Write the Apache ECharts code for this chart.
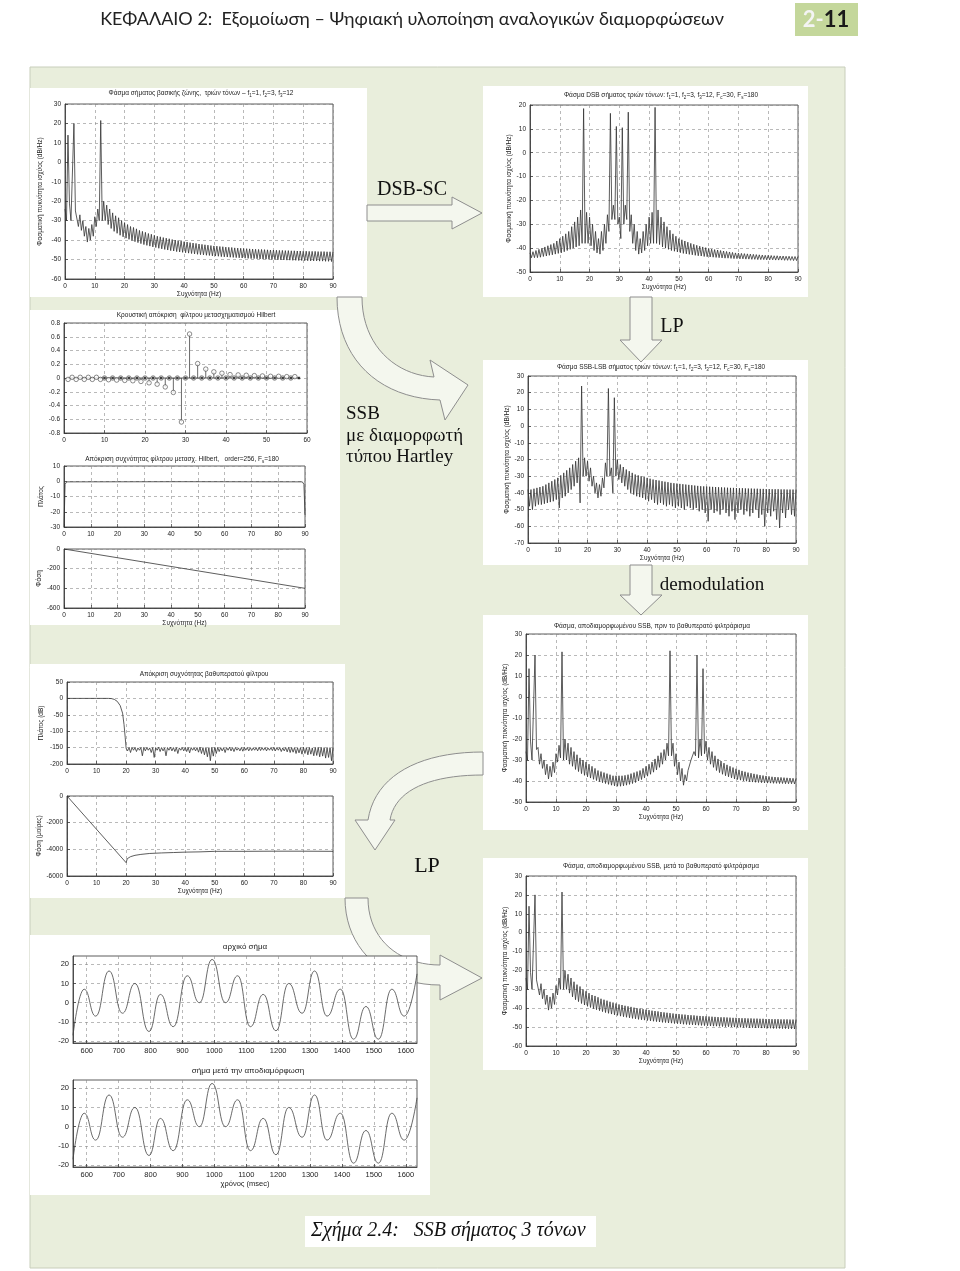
<!DOCTYPE html>
<html><head><meta charset="utf-8">
<script src="https://cdn.jsdelivr.net/npm/echarts@6/dist/echarts.min.js"></script>
<style>html,body{margin:0;padding:0;background:#fff}#c{width:960px;height:1271px}</style>
</head><body><div id="c"></div>
<script>
// ---------- DATA ----------
// spectra: value at integer Hz (hi) and at k+0.5 Hz (lo)
const bbHi = [-24,14,-30,20,-24,-27,-30,-33,-34,-32,
 -28,-24,21.5,-20,-22,-24,-26,-27.5,-28.5,-30,
 -31,-32,-33,-33.5,-34.2,-35,-35.5,-36,-36.6,-37,
 -37.5,-38,-38.3,-38.7,-39,-39.3,-39.7,-40,-40.2,-40.5,
 -40.8,-41,-41.3,-41.5,-41.7,-42,-42.2,-42.4,-42.6,-42.8,
 -43,-43.1,-43.3,-43.4,-43.6,-43.7,-43.8,-44,-44.1,-44.2,
 -44.3,-44.4,-44.5,-44.6,-44.7,-44.8,-44.8,-44.9,-45,-45.1,
 -45.1,-45.2,-45.3,-45.3,-45.4,-45.4,-45.5,-45.5,-45.6,-45.6,
 -45.7,-45.7,-45.8,-45.8,-45.8,-45.9,-45.9,-45.9,-46,-46,
 -46];
const bbLo = [-30,-21,-30,-25,-33,-35,-38,-41,-40,-38,
 -33,-30,-30,-30,-32,-34,-35.5,-36.5,-37.5,-38.3,
 -39,-39.6,-40.2,-40.8,-41.3,-41.8,-42.3,-42.7,-43.1,-43.5,
 -43.8,-44.2,-44.5,-44.8,-45.1,-45.4,-45.6,-45.9,-46.1,-46.3,
 -46.5,-46.7,-46.9,-47.1,-47.3,-47.5,-47.6,-47.8,-47.9,-48.1,
 -48.2,-48.3,-48.5,-48.6,-48.7,-48.8,-48.9,-49,-49.1,-49.2,
 -49.3,-49.4,-49.5,-49.5,-49.6,-49.7,-49.8,-49.8,-49.9,-50,
 -50,-50.1,-50.2,-50.2,-50.3,-50.3,-50.4,-50.4,-50.5,-50.5,
 -50.6,-50.6,-50.7,-50.7,-50.7,-50.8,-50.8,-50.9,-50.9,-51];

const dsbHi = [-42,-41.5,-41,-40.5,-40,-39.5,-39,-38.5,-38,-37,
 -36,-35,-34,-33,-31,-29,-27,-24,18.5,-25,
 -27,-30,-33,-36,-33,-30,-26,16.5,-22,11,
 -27,10.5,-22,17,-26,-30,-33,-36,-33,-30,
 -27,-25,19,-24,-27,-29,-31,-32.5,-34,-35,
 -36,-36.5,-37,-37.5,-38,-38.4,-38.8,-39.2,-39.5,-39.8,
 -40.1,-40.4,-40.6,-40.8,-41,-41.2,-41.4,-41.6,-41.8,-42,
 -42.1,-42.2,-42.3,-42.4,-42.5,-42.6,-42.7,-42.8,-42.9,-43,
 -43,-43.1,-43.2,-43.2,-43.3,-43.3,-43.4,-43.4,-43.5,-43.5,
 -43.5];
const dsbLo = [-44,-44,-44,-43.8,-43.5,-43.3,-43,-42.8,-42.5,-42.2,
 -42,-41.5,-41,-40.5,-40,-39.5,-39,-38,-38,-38,
 -39,-41,-42,-42.5,-41,-38,-33,-28,-28,-30,
 -36,-30,-28,-33,-38,-41,-42.5,-42,-41,-39,
 -38,-38,-38,-38.5,-39.5,-40,-40.5,-41,-41.3,-41.6,
 -41.9,-42.2,-42.4,-42.6,-42.8,-43,-43.2,-43.3,-43.5,-43.6,
 -43.7,-43.8,-43.9,-44,-44.1,-44.2,-44.2,-44.3,-44.4,-44.4,
 -44.5,-44.5,-44.6,-44.6,-44.7,-44.7,-44.8,-44.8,-44.8,-44.9,
 -44.9,-44.9,-45,-45,-45,-45.1,-45.1,-45.1,-45.2,-45.2];

const ssbHi = [-38,-38,-37.5,-37,-36.5,-36,-35,-34,-33,-32,
 -31,-29.5,-28,-26.5,-25,-23,-21,-19,24,-19,
 -21,-25,-30,-34,-35,-31,-22,22.5,-25,17,
 -20,-23,-24.5,-26,-27,-28,-29,-29.5,-30,-30.5,
 -31,-31.5,-32,-32.3,-32.6,-33,-33.3,-33.6,-34,-34.2,
 -34.4,-34.6,-34.8,-35,-35.2,-35.4,-35.6,-35.8,-36,-36.1,
 -36.2,-36.3,-36.4,-36.5,-36.6,-36.7,-36.8,-36.9,-37,-37,
 -37.1,-37.2,-37.2,-37.3,-37.4,-37.4,-37.5,-37.5,-37.6,-37.6,
 -37.7,-37.7,-37.8,-37.8,-37.8,-37.9,-37.9,-38,-38,-38,
 -38];
const ssbLo = [-48,-50,-48,-47,-47,-46.5,-46,-45.5,-45,-44,
 -49,-43,-42,-40,-38,-36,-34,-46,-30,-30,
 -33,-36,-40,-43,-42,-37,-30,-30,-40,-30,
 -32,-34,-36,-38,-40,-41,-42,-42.5,-43,-44,
 -45,-44,-46,-47,-46,-47,-48,-47,-48,-49,
 -48,-49,-50,-48,-49,-50,-49,-51,-50,-52,
 -57,-50,-52,-51,-53,-50,-52,-54,-51,-56,
 -52,-50,-53,-51,-54,-52,-50,-55,-53,-60,
 -52,-54,-51,-56,-61,-52,-55,-50,-53,-54];

const dmHi = [-26,13.5,-30,20,-24,-27,-30,-32,-33,-31,
 -27,-23,21.5,-20,-22,-24,-26,-27.5,-29,-30,
 -31,-32,-33,-34,-35,-35.5,-36,-36.5,-37,-37.5,
 -37.5,-37.5,-37.5,-37.3,-37,-36.5,-36,-35.5,-35,-34,
 -33,-32,-31,-29.5,-28,-26.5,-25,-22,22,-22,
 -27,-31,-34,-37,-35,-30,-26,20,-20,13.5,
 -21,-24,-26,-28,-29.5,-30.5,-31.5,-32.3,-33,-33.6,
 -34.2,-34.7,-35.2,-35.6,-36,-36.3,-36.6,-36.9,-37.2,-37.4,
 -37.6,-37.8,-38,-38.1,-38.2,-38.3,-38.4,-38.5,-38.6,-38.7,
 -38.8];
const dmLo = [-30,-21,-30,-25,-32,-34,-37,-39,-38,-36,
 -31,-29,-30,-30,-32,-33,-34.5,-35.5,-36.5,-37.3,
 -38,-38.6,-39.2,-39.8,-40.3,-40.8,-41.2,-41.6,-42,-42.3,
 -42.5,-42.5,-42.3,-42,-41.6,-41.2,-40.7,-40,-39.3,-38.5,
 -37.7,-36.8,-35.8,-34.7,-33.5,-32,-30,-28,-28,-33,
 -37,-40,-42,-40,-35,-30,-28,-29,-28,-27,
 -30,-32,-33.5,-35,-36,-36.8,-37.5,-38,-38.5,-39,
 -39.3,-39.6,-39.9,-40.1,-40.3,-40.5,-40.6,-40.7,-40.8,-40.9,
 -41,-41,-41.1,-41.1,-41.2,-41.2,-41.3,-41.3,-41.3,-41.4];

// after low-pass filtering: same picture as the baseband spectrum
const alHi = bbHi, alLo = bbLo;

// low-pass filter magnitude
const lpPass = [[0,0],[5,0],[10,0],[14,0],[15,-0.5],[16,-3],[17,-9],[18,-22],[18.8,-45],[19.3,-80],[19.7,-120]];
const lpHi = [-152,-150,-149,-150,-151,-150,-149,-150,-151,-150,
 -150,-149,-150,-151,-150,-149,-150,-150,-151,-150,
 -149,-150,-150,-151,-150,-149,-150,-151,-150,-150,
 -149,-150,-150,-151,-150,-149,-150,-150,-151,-150,
 -149,-150,-150,-151,-150,-149,-150,-150,-151,-150,
 -149,-150,-150,-151,-150,-149,-150,-150,-151,-150,
 -149,-150,-150,-151,-150,-149,-150,-150,-151,-150,
 -150];
const lpLo = [-160,-165,-158,-162,-158,-175,-160,-158,-165,-180,
 -158,-162,-160,-175,-158,-160,-162,-168,-158,-160,
 -162,-166,-158,-160,-164,-168,-172,-178,-190,-176,
 -168,-162,-160,-165,-158,-160,-162,-158,-160,-161,
 -158,-160,-159,-158,-160,-159,-158,-160,-158,-159,
 -160,-158,-162,-160,-163,-165,-164,-168,-166,-170,
 -168,-172,-170,-175,-174,-178,-176,-182,-180,-190];
const lpPh = [[0,0],[20,-5000],[20.4,-4700],[21.5,-4550],[23,-4450],[25,-4380],[28,-4310],[32,-4270],[36,-4240],[40,-4210],[45,-4190],[50,-4150],[60,-4150],[70,-4140],[80,-4140],[90,-4150]];

// Hilbert filter
const hbMag = [[0,-30],[0.4,-2],[1,-0.4],[45,-0.3],[89,-0.4],[89.6,-2],[90,-22]];
const hbPh = [[0,0],[90,-400]];
const stemN = [1,2,3,4,5,6,7,8,9,10,11,12,13,14,15,16,17,18,19,20,21,22,23,24,25,26,27,28,29,30,31,32,33,34,35,36,37,38,39,40,41,42,43,44,45,46,47,48,49,50,51,52,53,54,55,56,57];
const stemV = [-0.02,0.01,-0.02,0.01,-0.02,0.01,-0.02,0.01,-0.02,0,
 -0.025,0,-0.03,0,-0.035,0,-0.04,0,-0.05,0,
 -0.07,0,-0.09,0,-0.13,0,-0.21,0,-0.64,0,
 0.64,0,0.21,0,0.13,0,0.09,0,0.07,0,
 0.05,0,0.045,0,0.04,0,0.035,0,0.03,0,
 0.025,0,0.025,0,0.02,0,0.02];
const dotN = [10,12,14,16,18,20,22,24,26,28,30,32,34,36,38,40,42,44,46,48,50,52,54,56,58];
const stemBase = [1,58];

// time signals (extrema), msec
const sigT = [557,592,628,670,712,751,795,831,871,915,953,993,1035,1073,1113,1153,1193,1233,1275,1314,1353,1395,1436,1475,1514,1556,1595,1635];
const sigOrig = [-17,7,-7,16.5,-5.5,10,-15,4.3,-12.5,14,0,22.5,0,14,-12.5,4.3,-14.6,10,-5.5,16.5,-7,7,-19,-2,-19,7,-7,15];
const sigDemod = [-17,7,-7,16.5,-5.5,10,-15,4.3,-12.5,14,0,22.5,0,14,-12.5,4.3,-14.6,10,-5.5,16.5,-7,7,-19,-2,-19,7,-7,15];
const sigTicks = [600,700,800,900,1000,1100,1200,1300,1400,1500,1600];
const sigYTicks = [-20,-10,0,10,20];

// ---------- BUILD ----------
function zig(hi, lo, start) {
  const d = [];
  for (let k = 0; k < hi.length; k++) {
    d.push([start + k, hi[k]]);
    if (k < lo.length) d.push([start + k + 0.5, lo[k]]);
  }
  return d;
}
function pairs(xs, ys) { return xs.map((x, i) => [x, ys[i]]); }

const F = 'Liberation Sans, Arial, sans-serif';
const SERIF = 'Liberation Serif, Times New Roman, serif';
const TXT = '#222';
const FS = 6.5;

const grids = [
 {left:65, top:104, width:268, height:175},
 {left:530, top:105, width:268, height:167},
 {left:64, top:323, width:243, height:110},
 {left:64, top:466, width:241, height:61},
 {left:64, top:549, width:241, height:59},
 {left:528, top:376, width:268, height:167},
 {left:526, top:634, width:270, height:168},
 {left:67, top:682, width:266, height:82},
 {left:67, top:796, width:266, height:80},
 {left:526, top:876, width:270, height:170},
 {left:73, top:956, width:344, height:87},
 {left:73, top:1080, width:344, height:87}
];

const split = {show:true, lineStyle:{color:'#8a8a8a', type:[3,3], width:0.6}};
function ax(gi, min, max, interval, opts) {
  opts = opts || {};
  const a = {
    type:'value', gridIndex:gi, min:min, max:max,
    axisLine:{show:true, onZero:false, lineStyle:{color:'#333', width:0.8}},
    axisTick:{show:true, inside:true, length:3, lineStyle:{color:'#333', width:0.7}},
    axisLabel:{fontSize:opts.fs || FS, color:TXT, fontFamily:F, margin:opts.margin || 4, hideOverlap:false,
      formatter: opts.fmt || (v => String(v))},
    splitLine: split
  };
  if (interval != null) a.interval = interval;
  if (opts.custom) { a.axisLabel.customValues = opts.custom; a.axisTick.customValues = opts.custom; }
  if (opts.name) {
    a.name = opts.name; a.nameLocation = 'middle'; a.nameGap = opts.gap;
    a.nameTextStyle = {fontSize:opts.nfs || FS, color:TXT, fontFamily:F};
  }
  return a;
}
const YN = 'Φασματική πυκνότητα ισχύος (dB/Hz)';
const XN = 'Συχνότητα (Hz)';
const xAxis = [
 ax(0,0,90,10,{name:XN,gap:11}),
 ax(1,0,90,10,{name:XN,gap:11}),
 ax(2,0,60,10),
 ax(3,0,90,10),
 ax(4,0,90,10,{name:XN,gap:10}),
 ax(5,0,90,10,{name:XN,gap:9}),
 ax(6,0,90,10,{name:XN,gap:10}),
 ax(7,0,90,10),
 ax(8,0,90,10,{name:XN,gap:10}),
 ax(9,0,90,10,{name:XN,gap:10}),
 ax(10,557,1635,null,{custom:sigTicks, fs:7.5}),
 ax(11,557,1635,null,{custom:sigTicks, fs:7.5, name:'χρόνος (msec)', gap:11, nfs:7.5})
];
const stemFmt = v => String(Math.round(v*10)/10);
const yAxis = [
 ax(0,-60,30,10,{name:YN,gap:21}),
 ax(1,-50,20,10,{name:YN,gap:12}),
 ax(2,-0.8,0.8,0.2,{fmt:stemFmt}),
 ax(3,-30,10,10,{name:'Πλάτος',gap:19}),
 ax(4,-600,0,200,{name:'Φάση',gap:20}),
 ax(5,-70,30,10,{name:YN,gap:13}),
 ax(6,-50,30,10,{name:YN,gap:12}),
 ax(7,-200,50,50,{name:'Πλάτος (dB)',gap:22}),
 ax(8,-6000,0,2000,{name:'Φάση (μοίρες)',gap:24}),
 ax(9,-60,30,10,{name:YN,gap:12}),
 ax(10,-21,24.3,null,{custom:sigYTicks, fs:7.5}),
 ax(11,-21,24.3,null,{custom:sigYTicks, fs:7.5})
];

const LS = {color:'#333', width:0.8};
function line(gi, data, extra) {
  return Object.assign({type:'line', xAxisIndex:gi, yAxisIndex:gi, data:data, showSymbol:false, symbol:'none',
    lineStyle:LS, silent:true, animation:false}, extra || {});
}
const series = [
 line(0, zig(bbHi,bbLo,0)),
 line(1, zig(dsbHi,dsbLo,0)),
 line(2, stemBase.map(x => [x,0]), {lineStyle:{color:'#333', width:0.8}}),
 {type:'custom', xAxisIndex:2, yAxisIndex:2, data:pairs(stemN, stemV), silent:true, animation:false,
  renderItem:(p, api) => {
    const a = api.coord([api.value(0), 0]), b = api.coord([api.value(0), api.value(1)]);
    return {type:'line', shape:{x1:a[0],y1:a[1],x2:b[0],y2:b[1]}, style:{stroke:'#444', lineWidth:0.8}};
  }},
 {type:'scatter', xAxisIndex:2, yAxisIndex:2, data:pairs(stemN, stemV), symbol:'circle', symbolSize:4.5,
  itemStyle:{color:'#fff', borderColor:'#333', borderWidth:0.7}, silent:true, animation:false, z:3},
 {type:'scatter', xAxisIndex:2, yAxisIndex:2, data:dotN.map(n => [n,0]), symbol:'rect', symbolSize:2.5,
  itemStyle:{color:'#111'}, silent:true, animation:false, z:4},
 line(3, hbMag),
 line(4, hbPh),
 line(5, zig(ssbHi,ssbLo,0)),
 line(6, zig(dmHi,dmLo,0)),
 line(7, lpPass.concat(zig(lpHi,lpLo,20))),
 line(8, lpPh),
 line(9, zig(alHi,alLo,0)),
 line(10, pairs(sigT, sigOrig), {smooth:0.5, smoothMonotone:'x', lineStyle:{color:'#444', width:0.8}}),
 line(11, pairs(sigT, sigDemod), {smooth:0.5, smoothMonotone:'x', lineStyle:{color:'#444', width:0.8}})
];

const rich = {s:{fontSize:4.5, fontFamily:F, color:TXT, verticalAlign:'bottom', lineHeight:10}};
function ttl(text, x, y, fs) {
  return {text:text, left:x, top:y, textAlign:'center', padding:0, itemGap:0,
    textStyle:{fontSize:fs || FS, fontWeight:'normal', color:TXT, fontFamily:F, rich:rich}};
}
const title = [
 ttl('Φάσμα σήματος βασικής ζώνης,  τριών τόνων – f{s|1}=1, f{s|2}=3, f{s|3}=12', 201, 88),
 ttl('Φάσμα DSB σήματος τριών τόνων: f{s|1}=1, f{s|2}=3, f{s|3}=12, F{s|c}=30, F{s|s}=180', 661, 90),
 ttl('Κρουστική απόκριση  φίλτρου μετασχηματισμού Hilbert', 196, 312),
 ttl('Απόκριση συχνότητας φίλτρου μετασχ. Hilbert,   order=256, F{s|s}=180', 182, 454),
 ttl('Φάσμα SSB-LSB σήματος τριών τόνων: f{s|1}=1, f{s|2}=3, f{s|3}=12, F{s|c}=30, F{s|s}=180', 661, 362),
 ttl('Φάσμα, αποδιαμορφωμένου SSB, πριν το βαθυπερατό φιλτράρισμα', 652, 623),
 ttl('Απόκριση συχνότητας βαθυπερατού φίλτρου', 204, 671),
 ttl('Φάσμα, αποδιαμορφωμένου SSB, μετά το βαθυπερατό φιλτράρισμα', 661, 863),
 ttl('αρχικό σήμα', 245, 943, 8),
 ttl('σήμα μετά την αποδιαμόρφωση', 248, 1067, 8)
];

// decorative arrow outlines: simple path strings turned into polygon points
function pathPts(d) {
  const t = d.match(/[MLCZ]|-?[\d.]+/g); let i = 0, cx = 0, cy = 0; const pts = [];
  while (i < t.length) {
    const c = t[i++];
    if (c === 'M' || c === 'L') { cx = +t[i++]; cy = +t[i++]; pts.push([cx, cy]); }
    else if (c === 'C') {
      const x1 = +t[i++], y1 = +t[i++], x2 = +t[i++], y2 = +t[i++], x = +t[i++], y = +t[i++];
      for (let s = 1; s <= 20; s++) { const u = s/20, v = 1-u;
        pts.push([v*v*v*cx + 3*v*v*u*x1 + 3*v*u*u*x2 + u*u*u*x, v*v*v*cy + 3*v*v*u*y1 + 3*v*u*u*y2 + u*u*u*y]); }
      cx = x; cy = y;
    }
  }
  return pts;
}
const ARROW = {fill:'#f4f7ee', stroke:'#8e8e8e', lineWidth:1};
function rect(x,y,w,h,fill,z,stroke){ return {type:'rect', z:z, shape:{x:x,y:y,width:w,height:h}, style:{fill:fill, stroke:stroke||null}, silent:true}; }
function arrow(d){ return {type:'polygon', z:-80, shape:{points:pathPts(d)}, style:ARROW, silent:true}; }
function txt(t,x,y,fs,family,extra){ return {type:'text', z:-70, silent:true,
  style:Object.assign({text:t, x:x, y:y, fontSize:fs, fontFamily:family, fill:'#111', align:'left', verticalAlign:'middle'}, extra||{})}; }

const graphic = [
 rect(30,67,815,1201,'#e9eedc',-100,'#c8cebb'),
 rect(30,88,337,209,'#fff',-90),
 rect(483,86,325,211,'#fff',-90),
 rect(30,310,310,315,'#fff',-90),
 rect(483,360,325,205,'#fff',-90),
 rect(483,615,325,215,'#fff',-90),
 rect(30,664,315,234,'#fff',-90),
 rect(483,858,325,212,'#fff',-90),
 rect(30,935,400,260,'#fff',-90),
 rect(305,1216,291,31,'#fff',-90),
 arrow('M367 205 L452 205 L452 197 L482 213 L452 229 L452 221 L367 221 Z'),
 arrow('M630 297 L652 297 L652 340 L662 340 L641 362 L620 340 L630 340 Z'),
 arrow('M630 565 L652 565 L652 595 L662 595 L641 615 L620 595 L630 595 Z'),
 arrow('M337 297 C337 360 380 398 440 400 L445 420 L468 385 L430 360 L434 377 C395 375 362 345 362 297 Z'),
 arrow('M483 752 C420 752 375 775 368 820 L355 820 L375 850 L395 820 L390 820 C395 790 430 775 483 775 Z'),
 arrow('M345 898 C345 950 385 985 440 985 L440 1000 L482 978 L440 955 L440 965 C400 965 368 940 368 898 Z'),
 txt('DSB-SC', 412, 190, 20, SERIF, {align:'center'}),
 txt('SSB', 346, 414, 19, SERIF),
 txt('με διαμορφωτή', 346, 436, 19, SERIF),
 txt('τύπου Hartley', 346, 457, 19, SERIF),
 txt('LP', 672, 327, 20, SERIF, {align:'center'}),
 txt('demodulation', 712, 585, 19, SERIF, {align:'center'}),
 txt('LP', 427, 866, 22, SERIF, {align:'center'}),
 txt('Σχήμα 2.4:   SSB σήματος 3 τόνων', 311, 1231, 20, SERIF, {fontStyle:'italic'}),
 txt('ΚΕΦΑΛΑΙΟ 2:  Εξομοίωση – Ψηφιακή υλοποίηση αναλογικών διαμορφώσεων', 412, 19, 18, 'Lato, Open Sans, sans-serif', {align:'center', fill:'#222'}),
 rect(795,3,63,33,'#c4d79b',-100),
 {type:'text', z:-70, silent:true, style:{text:'{a|2-}{b|11}', x:826, y:20, align:'center', verticalAlign:'middle',
   rich:{a:{fontSize:22, fontFamily:'Lato, Open Sans, sans-serif', fill:'#f4f4f4', fontWeight:'bold'},
         b:{fontSize:22, fontFamily:'Lato, Open Sans, sans-serif', fill:'#1a1a1a', fontWeight:'bold'}}}}
];

const chart = echarts.init(document.getElementById('c'), null, {renderer:'canvas'});
chart.setOption({
  animation:false,
  backgroundColor:'#fff',
  title:title,
  grid:grids.map(g => Object.assign({show:true, borderColor:'#333', borderWidth:0.8, backgroundColor:'#fff', containLabel:false, outerBoundsMode:'none'}, g)),
  xAxis:xAxis, yAxis:yAxis, series:series, graphic:graphic
});
</script></body></html>
